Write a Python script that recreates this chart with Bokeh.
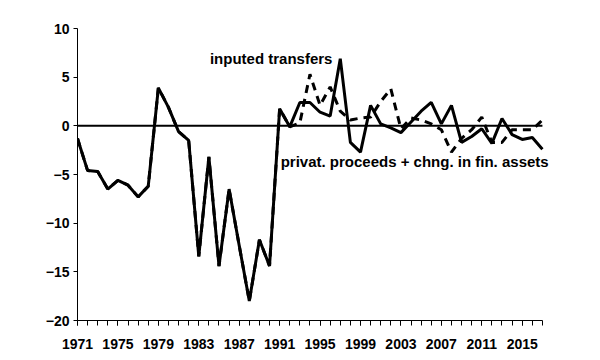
from bokeh.plotting import figure
from bokeh.models import FixedTicker, Label, Range1d
from bokeh.embed import file_html
from bokeh.resources import INLINE

years = list(range(1971, 2018))

privat_proceeds = [
    -1.3, -4.6, -4.7, -6.5, -5.6, -6.1, -7.3, -6.2, 3.9, 1.9,
    -0.6, -1.5, -13.4, -3.2, -14.4, -6.5, -12.3, -18.0, -11.7, -14.4,
    1.75, -0.1, 2.4, 2.4, 1.4, 1.0, 6.9, -1.7, -2.7, 2.1,
    0.2, -0.2, -0.7, 0.4, 1.5, 2.4, 0.2, 2.1, -1.7, -1.1,
    -0.3, -1.8, 0.75, -0.9, -1.4, -1.2, -2.4,
]

imputed_transfers = [
    -1.3, -4.6, -4.7, -6.5, -5.6, -6.1, -7.3, -6.2, 3.9, 1.9,
    -0.6, -1.5, -13.4, -3.2, -14.4, -6.5, -12.3, -18.0, -11.7, -14.4,
    1.75, -0.1, 0.3, 5.3, 2.1, 4.0, 1.5, 0.6, 0.8, 0.9,
    2.5, 3.8, -0.3, 0.8, 0.6, 0.2, -0.4, -2.7, -1.3, -0.4,
    0.9, -1.7, -1.7, -0.4, -0.4, -0.4, 0.6,
]

x_tick_labels = [1971, 1975, 1979, 1983, 1987, 1991, 1995, 1999, 2003, 2007, 2011, 2015]
y_ticks = [-20, -15, -10, -5, 0, 5, 10]

FONT = "Liberation Sans"

p = figure(
    width=600, height=360,
    output_backend="svg", toolbar_location=None,
    x_range=Range1d(1971, 2017.8), y_range=Range1d(-20, 10),
    min_border_left=77, min_border_right=50,
    min_border_top=28, min_border_bottom=40,
)
p.outline_line_color = None
p.grid.visible = False
p.background_fill_color = "white"
p.border_fill_color = "white"

# zero reference line, spanning the data years
p.segment(x0=years[0], x1=years[-1], y0=0, y1=0, line_color="black", line_width=2)

p.line(years, imputed_transfers, line_color="black", line_width=3, line_dash="8 6")
p.line(years, privat_proceeds, line_color="black", line_width=3)

for ax in (p.xaxis[0], p.yaxis[0]):
    ax.axis_line_color = "black"
    ax.axis_line_width = 1
    ax.major_tick_line_color = "black"
    ax.major_tick_in = 0
    ax.major_tick_out = 5
    ax.major_label_text_font = FONT
    ax.major_label_text_font_style = "bold"
    ax.major_label_text_font_size = "14px"
    ax.major_label_text_color = "black"

p.xaxis.ticker = FixedTicker(ticks=x_tick_labels, minor_ticks=years)
p.xaxis.bounds = (years[0], years[-1])
p.xaxis.minor_tick_line_color = "black"
p.xaxis.minor_tick_in = 0
p.xaxis.minor_tick_out = 5
p.xaxis.major_label_standoff = 13

p.yaxis.ticker = FixedTicker(ticks=y_ticks)
p.yaxis.minor_tick_line_color = None
p.yaxis.major_tick_out = 4
p.yaxis.major_label_standoff = 4

p.add_layout(Label(x=1984.1, y=6.9, text="inputed transfers",
                   text_font=FONT, text_font_style="bold", text_font_size="15px",
                   text_color="black", text_baseline="alphabetic"))
p.add_layout(Label(x=1991.1, y=-3.65, text="privat. proceeds + chng. in fin. assets",
                   text_font=FONT, text_font_style="bold", text_font_size="15px",
                   text_color="black", text_baseline="alphabetic"))

open("out.html", "w").write(file_html(p, INLINE))
